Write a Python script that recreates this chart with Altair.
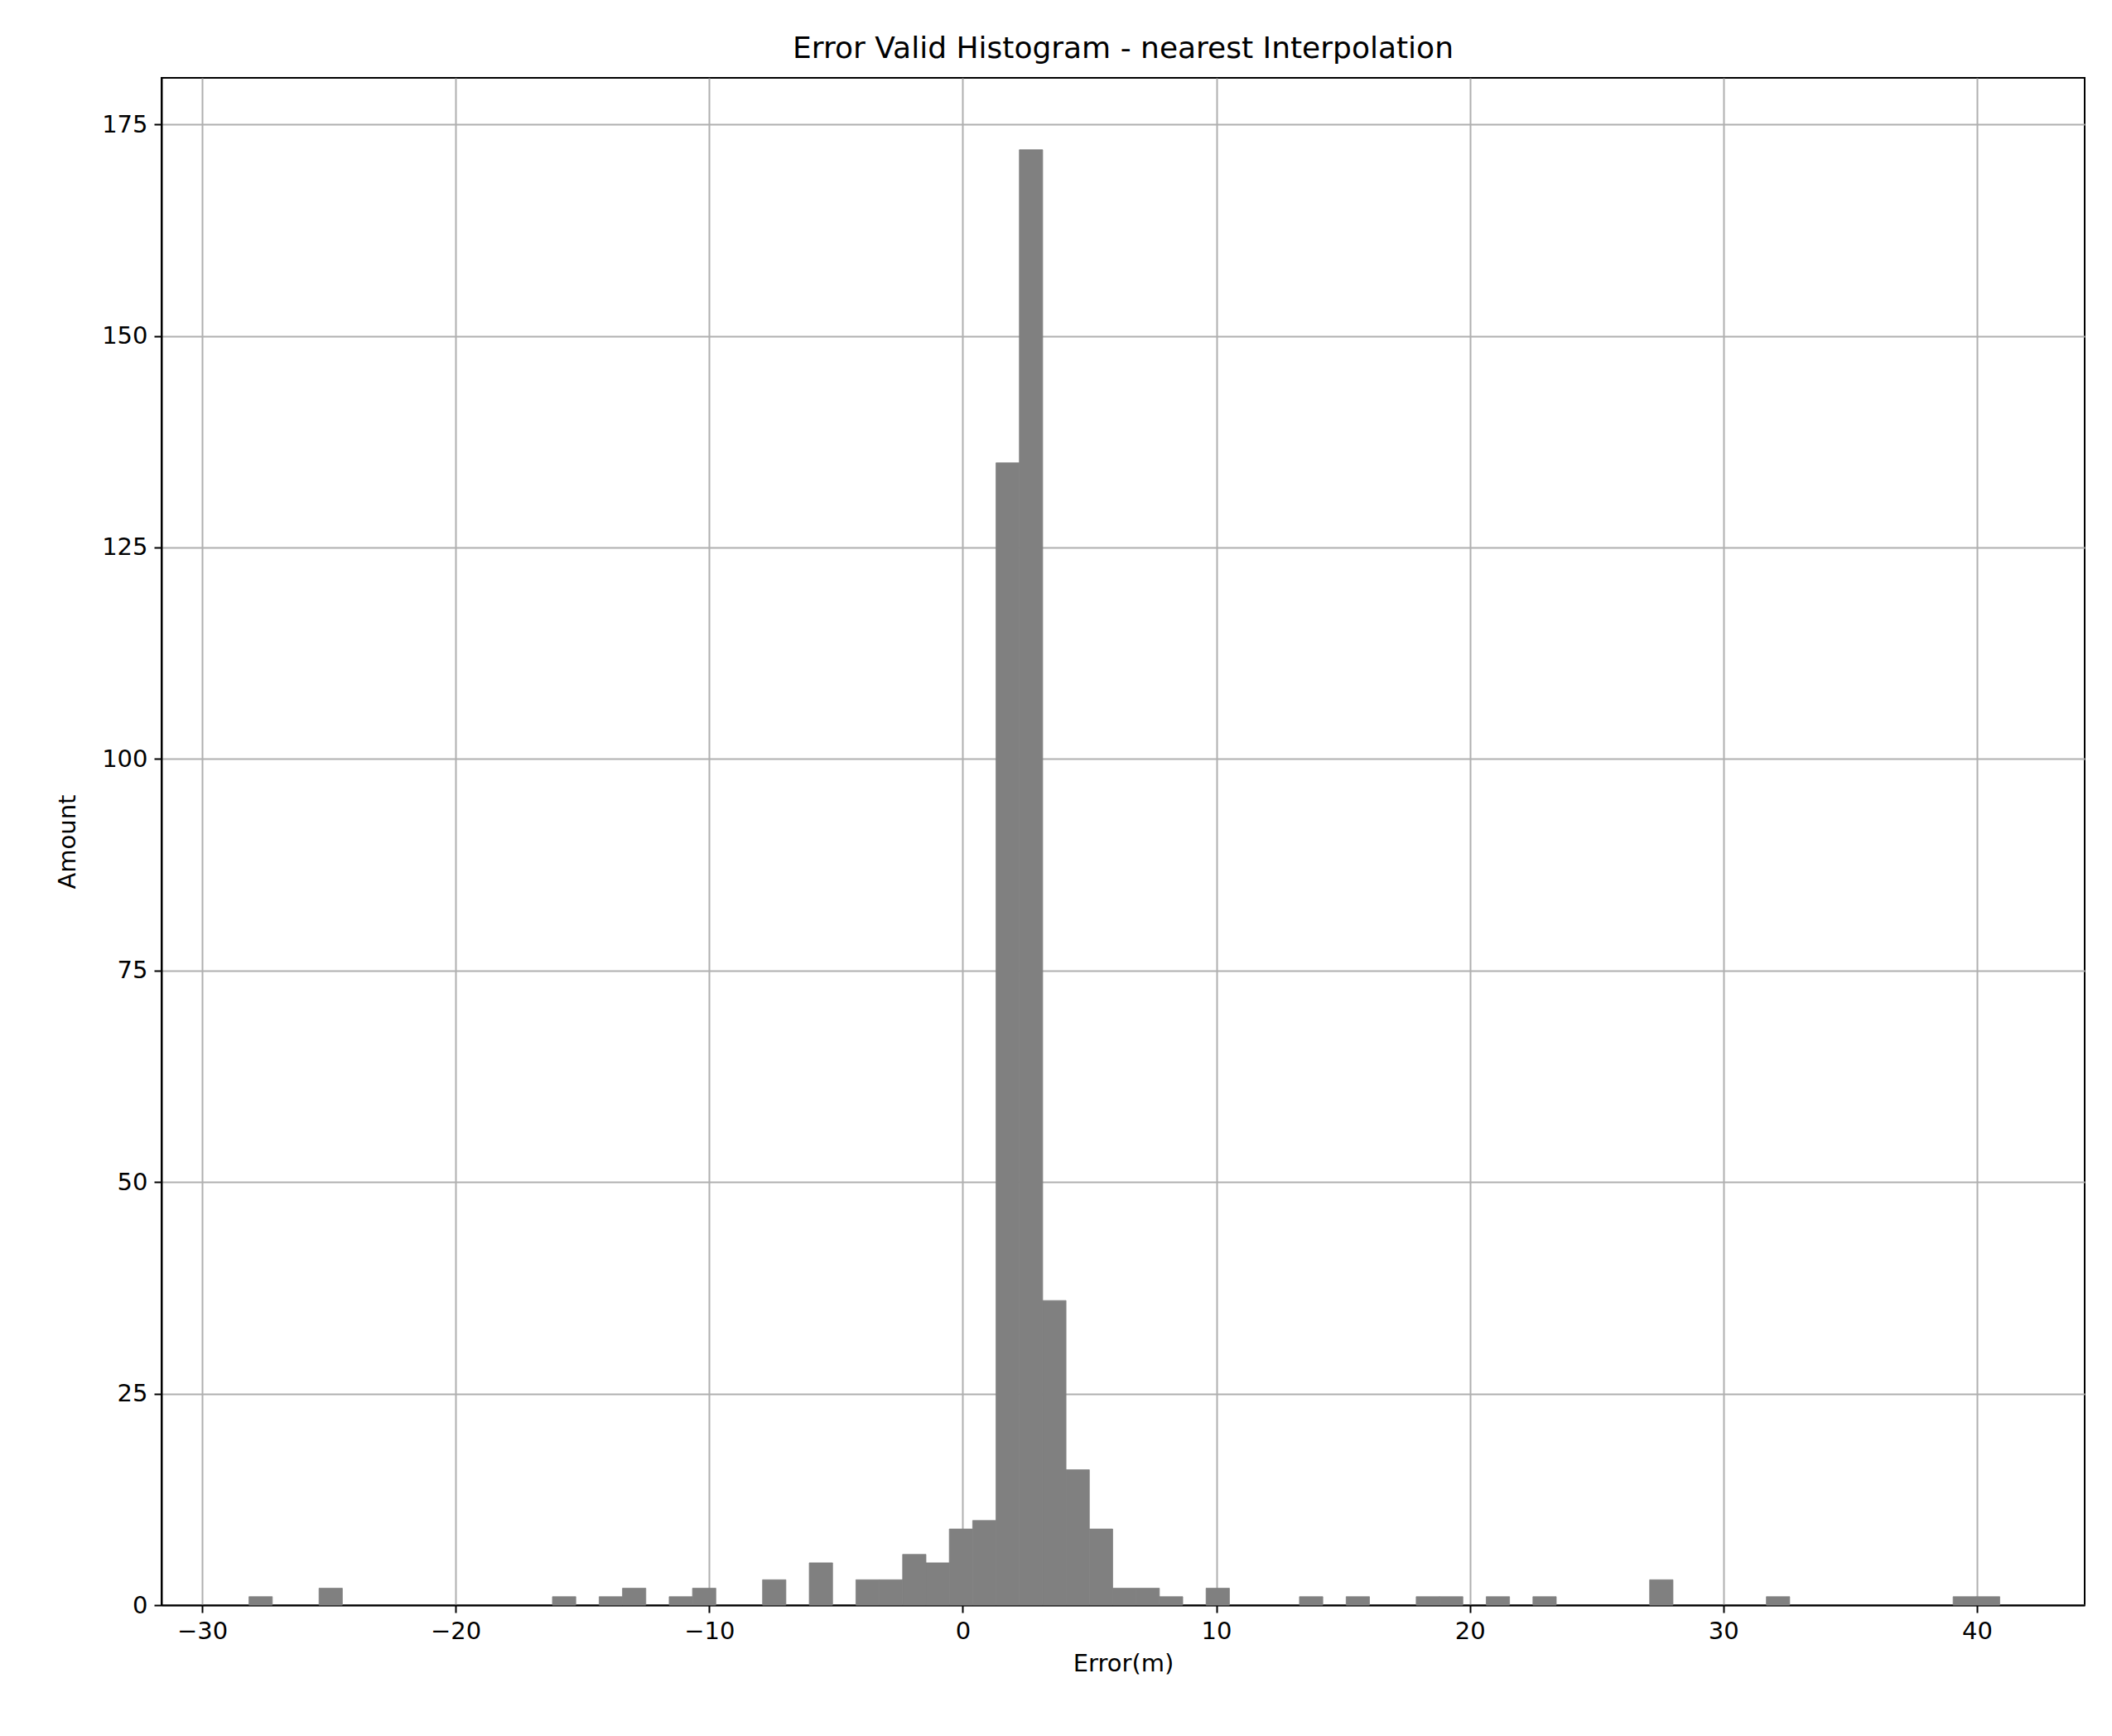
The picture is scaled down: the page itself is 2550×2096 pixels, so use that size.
import altair as alt
import pandas as pd

bin_start = -28.15
bin_width = 0.9207
counts = [1,0,0,2,0,0,0,0,0,0,0,0,0,1,0,1,2,0,1,2,
          0,0,3,0,5,0,3,3,6,5,9,10,135,172,36,16,9,2,2,1,
          0,2,0,0,0,1,0,1,0,0,1,1,0,1,0,1,0,0,0,0,
          3,0,0,0,0,1,0,0,0,0,0,0,0,1,1]

df = pd.DataFrame({
    "start": [bin_start + i * bin_width for i in range(len(counts))],
    "end": [bin_start + (i + 1) * bin_width for i in range(len(counts))],
    "count": counts,
})
df = df[df["count"] > 0]

F = "DejaVu Sans"
chart = alt.Chart(df).mark_rect(color="#808080", stroke="#808080", strokeWidth=0.8).encode(
    x=alt.X("start:Q", scale=alt.Scale(domain=[-31.6, 44.25], nice=False, zero=False),
            axis=alt.Axis(title="Error(m)", values=[-30, -20, -10, 0, 10, 20, 30, 40],
                          labelExpr="replace(datum.label, '-', '\u2212')", titlePadding=10)),
    x2="end:Q",
    y=alt.Y("count:Q", scale=alt.Scale(domain=[0, 180.5], nice=False),
            axis=alt.Axis(title="Amount", values=[0, 25, 50, 75, 100, 125, 150, 175],
                          titlePadding=26)),
    y2=alt.datum(0),
).properties(
    width=2322, height=1844,
    title=alt.TitleParams("Error Valid Histogram - nearest Interpolation", fontSize=36,
                          font=F, fontWeight="normal", offset=16),
    autosize="none",
    padding={"left": 187, "top": 86, "right": 25, "bottom": 150},
).configure_axis(
    labelFont=F, titleFont=F, labelFontSize=29, titleFontSize=29, titleFontWeight="normal",
    labelColor="black", titleColor="black", domainColor="black", tickColor="black",
    gridColor="#b0b0b0", gridWidth=2, tickSize=9, tickWidth=2, domainWidth=2,
    labelPadding=8,
).configure_view(stroke="black", strokeWidth=2)

chart.save("out.html", embed_options={"renderer": "svg", "actions": False})
